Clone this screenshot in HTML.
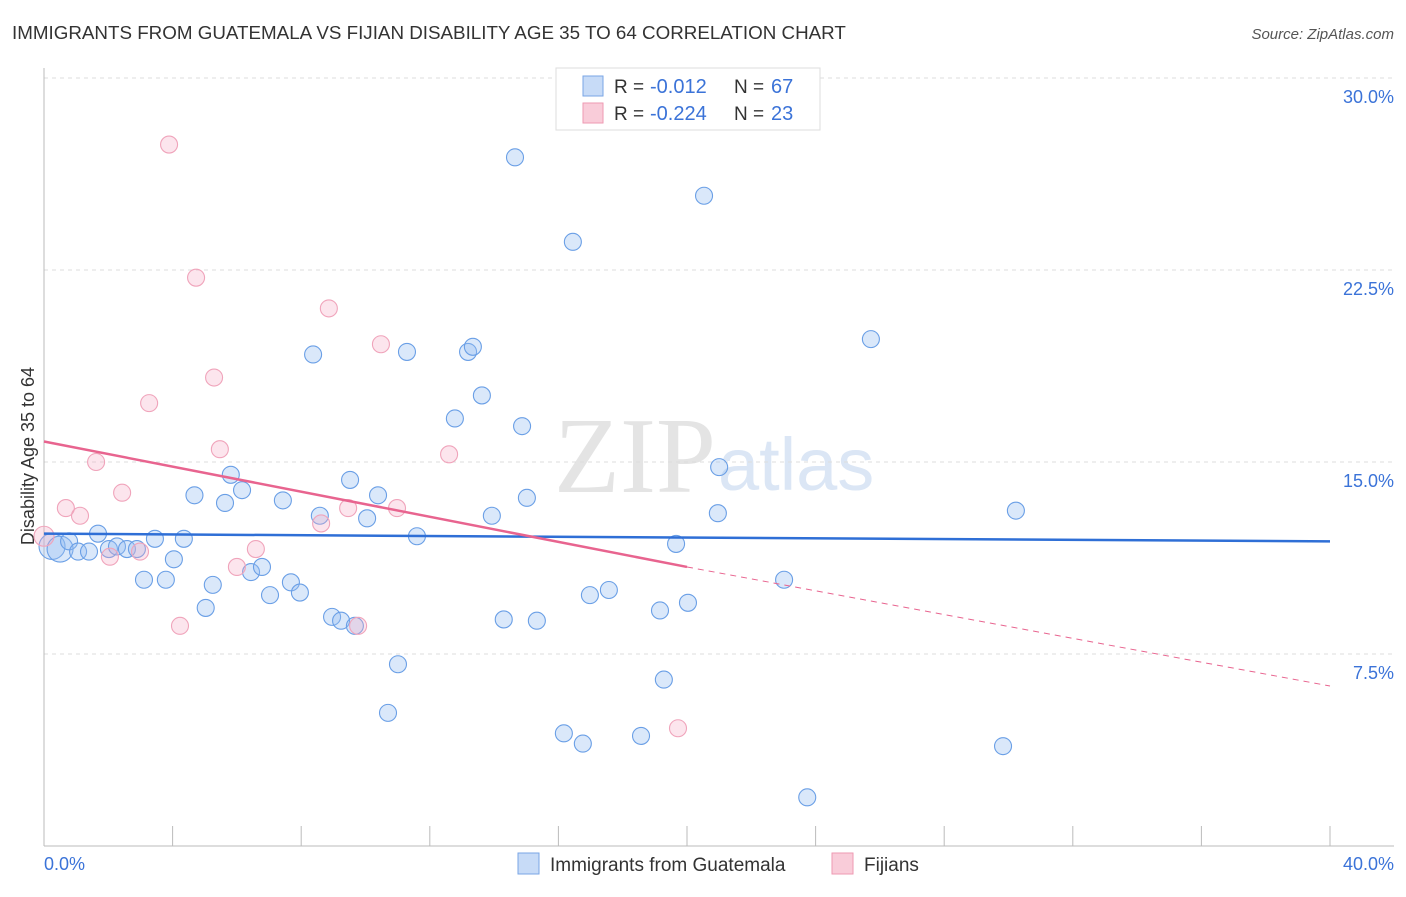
<!DOCTYPE html>
<html><head><meta charset="utf-8"><style>
body{margin:0;background:#fff;font-family:"Liberation Sans",sans-serif}
</style></head><body>
<svg width="1406" height="892" xmlns="http://www.w3.org/2000/svg" id="chart" font-family="Liberation Sans, sans-serif">
<text x="12" y="39" font-size="18.8" fill="#333">IMMIGRANTS FROM GUATEMALA VS FIJIAN DISABILITY AGE 35 TO 64 CORRELATION CHART</text>
<text x="1394" y="39" font-size="15" fill="#555" font-style="italic" text-anchor="end">Source: ZipAtlas.com</text>
<text x="716" y="492" font-size="108" fill="#e4e4e4" text-anchor="end" font-family="Liberation Serif, serif">ZIP</text>
<text x="718" y="490" font-size="74" fill="#dbe6f5">atlas</text>
<g id="grid"></g>
<line x1="44" y1="68" x2="44" y2="846" stroke="#bbb"/>
<line x1="44" y1="846" x2="1394" y2="846" stroke="#bbb"/>
<text x="34" y="456" font-size="18" fill="#333" text-anchor="middle" transform="rotate(-90 34 456)">Disability Age 35 to 64</text>
<text x="44" y="870" font-size="18" fill="#3b73d8">0.0%</text>
<text x="1394" y="870" font-size="18" fill="#3b73d8" text-anchor="end">40.0%</text>
<g id="marks"></g>
<g>
<rect x="556" y="68" width="264" height="62" fill="#fff" stroke="#ddd"/>
<rect x="583" y="76" width="20" height="20" fill="#c7dbf7" stroke="#7aa6e6"/>
<rect x="583" y="103" width="20" height="20" fill="#f9ccd9" stroke="#ee9ab2"/>
<text x="614" y="93" font-size="19" fill="#333">R =</text>
<text x="650" y="93" font-size="20" fill="#3b73d8">-0.012</text>
<text x="734" y="93" font-size="19" fill="#333">N =</text>
<text x="771" y="93" font-size="20" fill="#3b73d8">67</text>
<text x="614" y="120" font-size="19" fill="#333">R =</text>
<text x="650" y="120" font-size="20" fill="#3b73d8">-0.224</text>
<text x="734" y="120" font-size="19" fill="#333">N =</text>
<text x="771" y="120" font-size="20" fill="#3b73d8">23</text>
</g>
<g>
<rect x="518" y="853" width="21" height="21" fill="#c7dbf7" stroke="#7aa6e6"/>
<text x="550" y="871" font-size="19" fill="#333">Immigrants from Guatemala</text>
<rect x="832" y="853" width="21" height="21" fill="#f9ccd9" stroke="#ee9ab2"/>
<text x="864" y="871" font-size="19" fill="#333">Fijians</text>
</g>
</svg>
<script>
const yTicks=[7.5,15,22.5,30];
const yTickLabels=["7.5%","15.0%","22.5%","30.0%"];
const xTickVals=[4,8,12,16,20,24,28,32,36,40];
const blueX=[0.25,0.5,0.78,1.06,1.4,1.68,2.02,2.27,2.58,2.89,3.11,3.45,3.79,4.04,4.35,4.68,5.03,5.25,5.63,5.81,6.16,6.44,6.78,7.03,7.43,7.68,7.96,8.37,8.58,8.96,9.24,9.52,9.67,10.05,10.39,10.7,11.01,11.29,11.6,12.78,13.19,13.34,13.62,13.93,14.3,14.65,14.87,15.02,15.33,16.17,16.45,16.76,16.98,17.57,18.57,19.16,19.28,19.66,20.03,20.53,20.96,21.0,23.02,23.74,25.72,29.83,30.23];
const blueY=[11.7,11.6,11.9,11.5,11.5,12.2,11.6,11.7,11.6,11.6,10.4,12.0,10.4,11.2,12.0,13.7,9.3,10.2,13.4,14.5,13.9,10.7,10.9,9.8,13.5,10.3,9.9,19.2,12.9,8.95,8.8,14.3,8.6,12.8,13.7,5.2,7.1,19.3,12.1,16.7,19.3,19.5,17.6,12.9,8.85,26.9,16.4,13.6,8.8,4.4,23.6,4.0,9.8,10.0,4.3,9.2,6.5,11.8,9.5,25.4,13.0,14.8,10.4,1.9,19.8,3.9,13.1];
const pinkX=[0.0,0.68,1.12,1.62,2.05,2.43,2.986,3.27,3.89,4.23,4.73,5.29,5.47,6.0,6.59,8.62,8.86,9.46,9.77,10.48,10.98,12.6,19.72];
const pinkY=[12.1,13.2,12.9,15.0,11.3,13.8,11.5,17.3,27.4,8.6,22.2,18.3,15.5,10.9,11.6,12.6,21.0,13.2,8.6,19.6,13.2,15.3,4.6];
const blueTrend=[12.2,11.9];
const pinkTrend=[15.8,10.9,6.25];
const NS="http://www.w3.org/2000/svg";
const X=v=>44+v*32.15;
const Y=v=>846-v*25.6;
const grid=document.getElementById('grid');
const marks=document.getElementById('marks');
function mk(tag,attrs,parent){const e=document.createElementNS(NS,tag);for(const k in attrs)e.setAttribute(k,attrs[k]);parent.appendChild(e);return e;}
yTicks.forEach((t,i)=>{
  const l=mk('line',{x1:44,x2:1394,y1:Y(t),y2:Y(t),stroke:'#ddd','stroke-dasharray':'4,4'},grid);
  
  
  const tx=mk('text',{x:1394,y:Y(t)+25,'font-size':18,fill:'#3b73d8','text-anchor':'end'},grid);
  tx.textContent=yTickLabels[i];
  
  
});
xTickVals.forEach(t=>{
  const l=mk('line',{x1:X(t),x2:X(t),y1:826,y2:846,stroke:'#bbb'},grid);
  
  
});
blueX.forEach((v,i)=>{
  const c=mk('circle',{cx:X(v),cy:Y(blueY[i]),r:i<2?13:8.5,fill:'rgba(150,190,240,0.35)',stroke:'#6a9fe6','stroke-width':1.1},marks);
  
  
});
pinkX.forEach((v,i)=>{
  const c=mk('circle',{cx:X(v),cy:Y(pinkY[i]),r:i==0?10:8.5,fill:'rgba(245,170,195,0.3)',stroke:'#f0a4bb','stroke-width':1.1},marks);
  
  
});
const bt=mk('line',{x1:X(0),y1:Y(blueTrend[0]),x2:X(40),y2:Y(blueTrend[1]),stroke:'#2f6fd6','stroke-width':2.5},marks);


const pt=mk('line',{x1:X(0),y1:Y(pinkTrend[0]),x2:X(20),y2:Y(pinkTrend[1]),stroke:'#e8648f','stroke-width':2.5},marks);


const pd=mk('line',{x1:X(20),y1:Y(pinkTrend[1]),x2:X(40),y2:Y(pinkTrend[2]),stroke:'#e8648f','stroke-width':1,'stroke-dasharray':'6,5'},marks);


</script>
</body></html>
